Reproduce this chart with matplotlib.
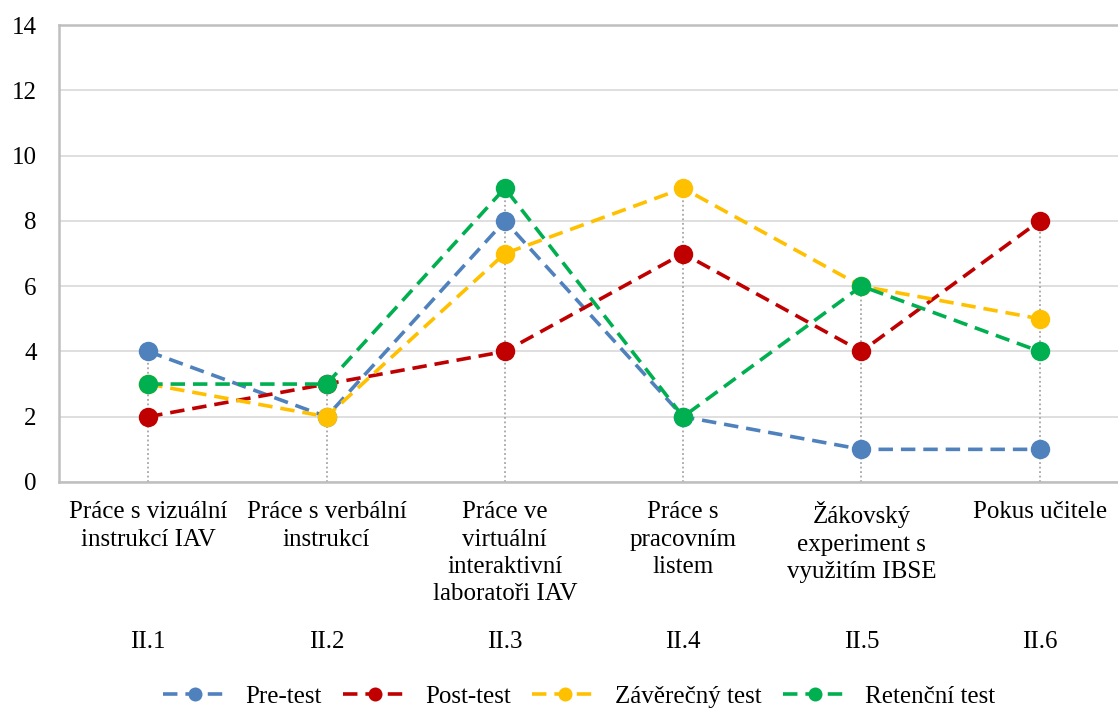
import matplotlib
matplotlib.use("Agg")
import matplotlib.pyplot as plt
import matplotlib.transforms as mtransforms
import numpy as np

# --- Data ---
categories = [
    "Práce s vizuální\ninstrukcí IAV",
    "Práce s verbální\ninstrukcí",
    "Práce ve\nvirtuální\ninteraktivní\nlaboratoři IAV",
    "Práce s\npracovním\nlistem",
    "Žákovský\nexperiment s\nvyužitím IBSE",
    "Pokus učitele",
]
codes = ["II.1", "II.2", "II.3", "II.4", "II.5", "II.6"]

pre_test = [4, 2, 8, 2, 1, 1]
post_test = [2, 3, 4, 7, 4, 8]
final_test = [3, 2, 7, 9, 6, 5]
retention_test = [3, 3, 9, 2, 6, 4]

series = [
    ("Pre-test", pre_test, "#4F81BD"),
    ("Post-test", post_test, "#C00000"),
    ("Závěrečný test", final_test, "#FFC000"),
    ("Retenční test", retention_test, "#00B050"),
]

plt.rcParams["font.family"] = ["Liberation Serif", "DejaVu Serif"]
FS = 18

fig = plt.figure(figsize=(11.18, 7.11), dpi=100)
ax = fig.add_axes([0.0528, 0.3221, 0.957, 0.6427])

x = np.arange(len(categories))

# --- Drop lines from the highest point to the axis ---
tops = np.max([s[1] for s in series], axis=0)
ax.vlines(x, 0, tops, colors="#a6a6a6", linestyles=(0, (1, 1.5)),
          linewidth=1.3, zorder=1)

# --- Series ---
for name, vals, color in series:
    ax.plot(x, vals, color=color, linewidth=2.6, dashes=(4, 2.2),
            marker="o", markersize=14, markeredgewidth=0,
            label=name, zorder=3)

# --- Axes styling ---
ax.set_xlim(-0.5, len(categories) - 0.5)
ax.set_ylim(0, 14)
ax.set_yticks(range(0, 15, 2))
ax.grid(axis="y", color="#d9d9d9", linewidth=1.2, zorder=0)
ax.set_axisbelow(True)
for side in ("left", "top", "bottom"):
    ax.spines[side].set_color("#bfbfbf")
    ax.spines[side].set_linewidth(1.8)
ax.spines["right"].set_visible(False)

ax.set_xticks(x)
ax.set_xticklabels(categories, fontsize=FS, linespacing=1.3)
ax.tick_params(axis="x", length=0, pad=14)
ax.tick_params(axis="y", length=0, pad=16, labelsize=FS)

# second row of category codes
trans = mtransforms.blended_transform_factory(ax.transData, ax.transAxes)
for xi, code in zip(x, codes):
    ax.text(xi, -0.35, code, transform=trans, ha="center", va="center",
            fontsize=FS)

fig.legend(loc="center", bbox_to_anchor=(0.518, 0.02), ncol=4,
           frameon=False, fontsize=FS, handlelength=2.6,
           handletextpad=0.7, columnspacing=0.85, markerscale=0.72)

fig.savefig("out.png", dpi=100, facecolor="white")
